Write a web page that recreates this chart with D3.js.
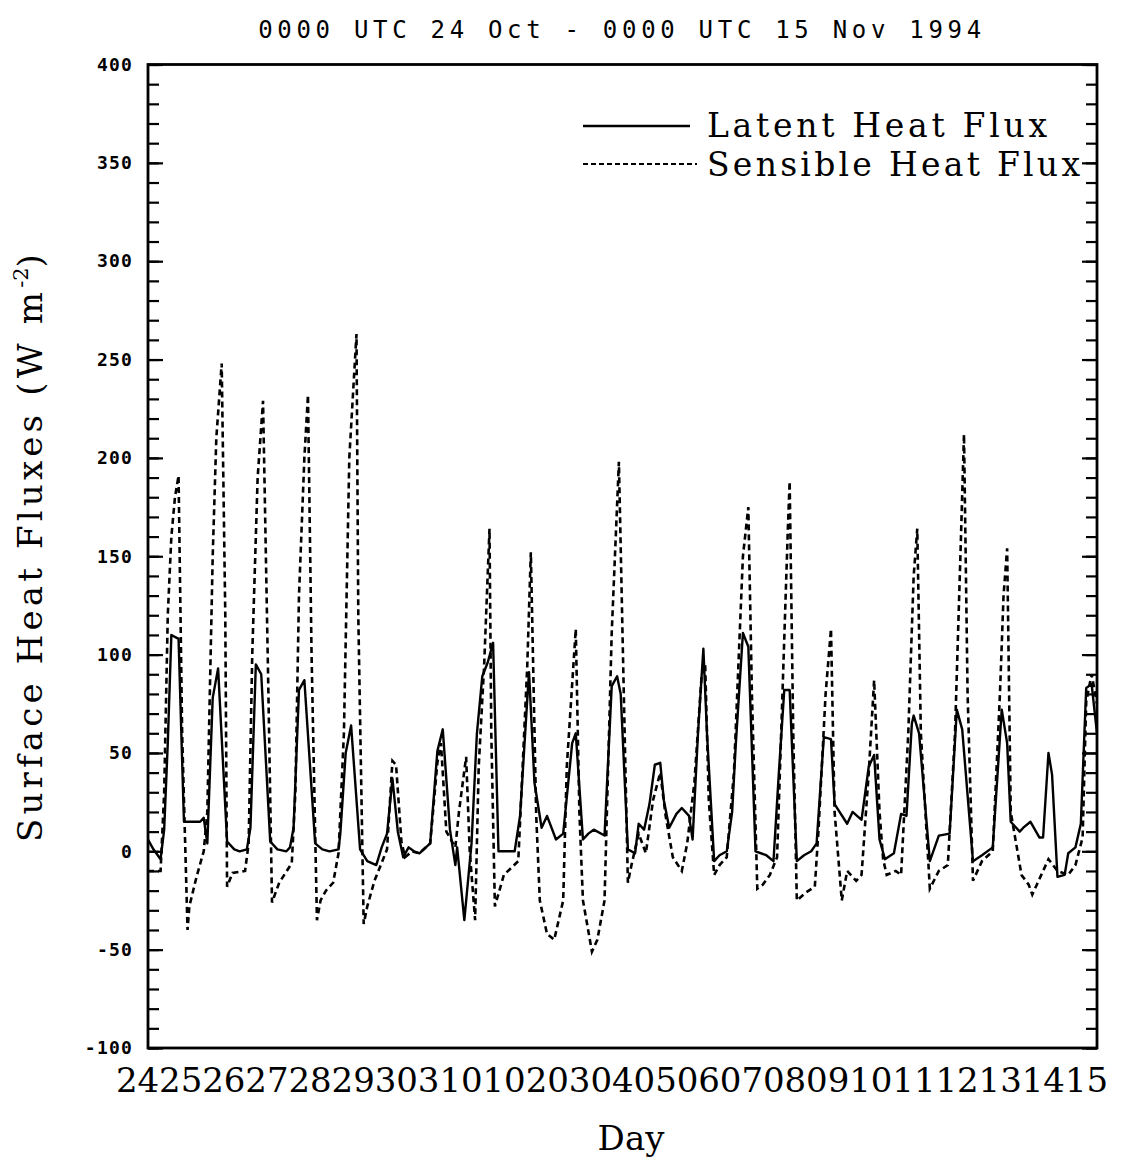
<!DOCTYPE html>
<html>
<head>
<meta charset="utf-8">
<script src="https://cdn.jsdelivr.net/npm/d3@7"></script>
<style>
  body { margin: 0; background: #fff; }
  svg { display: block; }
  .mono { font-family: "DejaVu Sans Mono", monospace; }
  .serif { font-family: "DejaVu Serif", serif; }
</style>
</head>
<body>
<div id="chart"></div>
<script>
// hours since 0000 UTC 24 Oct 1994, values in W m-2
const latentHours = [0,3,7,9,11,13,17,20,23,29,31,33,36,39,44,48,51,55,57,60,63,68,72,77,79,81,84,87,93,97,101,106,107,110,113,118,122,127,130,133,136,139,142,145,148,151,157,161,164,168,171,172,176,180,183,186,189,192,195,204,207,211,212,215,219,222,227,231,236,238,242,245,248,254,258,261,263,267,271,273,276,279,282,285,287,290,294,297,301,303,306,309,311,315,318,322,325,327,331,334,338,344,348,351,354,357,361,365,369,372,376,380,382,389,392,397,401,404,407,410,415,419,422,425,426,429,435,440,446,450,453,459,464,470,475,478,480,485,487,491,496,498,501,503,506,510,512,516,519,522,525,528];
const latentValues = [6,1,-4,11,55,110,108,15,15,15,17,4,78,93,5,1,0,1,12,95,90,5,1,0,2,12,82,87,4,1,0,1,9,50,64,1,-5,-7,2,9,37,10,-3,2,0,-1,4,51,62,11,-7,2,-35,4,60,89,96,106,0,0,18,77,91,35,12,18,6,9,55,60,6,9,11,8,84,89,80,1,-1,14,11,24,44,45,26,12,19,22,18,6,60,103,60,-5,-2,0,20,54,111,104,0,-2,-5,40,82,82,-5,-2,0,4,58,57,24,14,20,16,43,49,6,-4,-1,19,18,65,69,60,-5,8,9,72,62,-5,-2,2,72,55,15,10,12,15,7,7,50,39,-13,-12,-1,2,14,83,85,60];

const sensibleHours = [0,3,7,9,11,13,15,17,19,22,23,27,31,33,36,38,41,43,44,47,54,56,58,61,64,67,69,73,80,82,84,87,89,91,94,96,99,103,106,109,112,116,117,120,122,126,133,136,138,141,143,147,151,157,161,163,166,171,173,177,179,182,184,187,190,191,193,198,206,211,213,216,218,222,226,231,233,238,240,242,247,250,254,258,262,264,267,269,273,277,281,285,288,292,297,300,304,308,310,312,315,318,322,326,331,334,336,339,342,346,350,353,356,357,359,361,366,371,373,377,380,382,386,389,394,397,401,404,407,409,411,416,419,423,426,428,430,435,440,445,449,452,454,456,459,464,470,474,476,478,480,486,490,492,497,501,506,512,516,520,522,525,528];
const sensibleValues = [-10,-10,-10,30,120,160,180,191,60,-40,-28,-13,0,20,150,210,248,120,-18,-11,-10,4,100,190,229,80,-26,-16,-6,30,130,200,232,100,-35,-25,-20,-16,-1,60,200,263,120,-37,-28,-15,1,46,44,5,-3,0,-1,4,45,55,10,2,20,48,0,-35,43,94,164,60,-28,-12,-5,94,152,18,-25,-42,-45,-25,43,113,20,-25,-51,-45,-25,111,198,111,-16,-7,9,-1,26,40,18,-3,-10,4,35,89,95,26,-12,-7,-3,40,150,175,80,-19,-17,-12,-3,80,164,188,60,-25,-21,-18,10,80,113,20,-25,-10,-15,-12,40,87,20,-4,-12,-10,-12,60,140,164,60,-19,-10,-7,60,150,212,80,-15,-5,0,80,130,154,20,-12,-17,-22,-12,-4,-10,-12,-7,7,76,90,75];

const dayLabels = ["24","25","26","27","28","29","30","31","01","02","03","04","05","06","07","08","09","10","11","12","13","14","15"];
const majorTicks = [-100,-50,0,50,100,150,200,250,300,350,400];
const minorTicks = d3.range(-100, 401, 10);

const titleText = "0000 UTC 24 Oct - 0000 UTC 15 Nov 1994";
const legendNames = ["Latent Heat Flux", "Sensible Heat Flux"];
const legendWidths = [340, 373];

const W = 1124, H = 1170;
const plotL = 148, plotR = 1097, plotT = 64.5, plotB = 1048;

const svg = d3.select("#chart").append("svg")
    .attr("width", W)
    .attr("height", H);

const x = d3.scaleLinear().domain([0, 528]).range([plotL, plotR]);
const y = d3.scaleLinear().domain([-100, 400]).range([plotB, plotT]);

// title
svg.append("text")
    .attr("class", "mono")
    .attr("x", 622)
    .attr("y", 38)
    .attr("text-anchor", "middle")
    .style("font-size", "24px")
    .style("letter-spacing", "4.7px")
    .text(titleText);

// left axis: minor + major ticks pointing inward
svg.append("g")
    .attr("transform", `translate(${plotL},0)`)
    .call(d3.axisLeft(y).tickValues(minorTicks).tickSizeInner(-11).tickSizeOuter(0).tickFormat(""))
    .call(g => g.select(".domain").remove());

svg.append("g")
    .attr("transform", `translate(${plotL},0)`)
    .call(d3.axisLeft(y).tickValues(majorTicks).tickSizeInner(-15).tickSizeOuter(0).tickPadding(15).tickFormat(d => String(d)))
    .call(g => g.select(".domain").remove())
    .call(g => g.selectAll("text")
        .attr("class", "mono")
        .style("font-size", "18px")
        .style("font-weight", "bold")
        .style("letter-spacing", "1.2px"));

// right axis ticks, inward
svg.append("g")
    .attr("transform", `translate(${plotR},0)`)
    .call(d3.axisRight(y).tickValues(minorTicks).tickSizeInner(-11).tickSizeOuter(0).tickFormat(""))
    .call(g => g.select(".domain").remove());

svg.append("g")
    .attr("transform", `translate(${plotR},0)`)
    .call(d3.axisRight(y).tickValues(majorTicks).tickSizeInner(-15).tickSizeOuter(0).tickFormat(""))
    .call(g => g.select(".domain").remove());

svg.selectAll(".tick line")
    .attr("stroke", "#000")
    .attr("stroke-width", 2.2);

// bottom day labels
svg.append("g")
    .attr("transform", `translate(0,${plotB})`)
    .call(d3.axisBottom(x).tickValues(d3.range(0, 529, 24)).tickSize(0).tickPadding(0)
        .tickFormat((d, i) => dayLabels[i]))
    .call(g => g.select(".domain").remove())
    .call(g => g.selectAll("text")
        .attr("class", "serif")
        .attr("dx", -11)
        .attr("dy", 0)
        .attr("y", 44)
        .style("font-size", "34px")
        .style("fill", "#000"));

// frame
svg.append("rect")
    .attr("x", plotL)
    .attr("y", plotT)
    .attr("width", plotR - plotL)
    .attr("height", plotB - plotT)
    .attr("fill", "none")
    .attr("stroke", "#000")
    .attr("stroke-width", 2.8);

// axis titles
svg.append("text")
    .attr("class", "serif")
    .attr("x", 631)
    .attr("y", 1150)
    .attr("text-anchor", "middle")
    .attr("textLength", 67)
    .style("font-size", "34px")
    .text("Day");

const yt = svg.append("text")
    .attr("class", "serif")
    .attr("transform", "translate(42,842) rotate(-90)")
    .style("font-size", "34px");
yt.append("tspan").attr("textLength", 550).text("Surface Heat Fluxes (W m");
yt.append("tspan").attr("dy", -14).style("font-size", "21px").text("-2");
yt.append("tspan").attr("dy", 14).text(")");

// series
const latent = latentHours.map((h, i) => ({h: h, v: latentValues[i]}));
const sensible = sensibleHours.map((h, i) => ({h: h, v: sensibleValues[i]}));

const line = d3.line()
    .x(d => x(d.h))
    .y(d => y(d.v));

svg.append("path")
    .datum(sensible)
    .attr("d", line)
    .attr("fill", "none")
    .attr("stroke", "#000")
    .attr("stroke-width", 2.6)
    .attr("stroke-dasharray", "6,4");

svg.append("path")
    .datum(latent)
    .attr("d", line)
    .attr("fill", "none")
    .attr("stroke", "#000")
    .attr("stroke-width", 2.4)
    .attr("stroke-linejoin", "round");

// legend
const legend = svg.append("g");
legend.append("line")
    .attr("x1", 583).attr("x2", 690)
    .attr("y1", 126).attr("y2", 126)
    .attr("stroke", "#000")
    .attr("stroke-width", 2.4);
legend.append("line")
    .attr("x1", 583).attr("x2", 697)
    .attr("y1", 164).attr("y2", 164)
    .attr("stroke", "#000")
    .attr("stroke-width", 2)
    .attr("stroke-dasharray", "5,3");
legend.selectAll("text.leg")
    .data(legendNames)
    .join("text")
    .attr("class", "serif leg")
    .attr("x", 707)
    .attr("y", (d, i) => 137 + i * 39)
    .attr("textLength", (d, i) => legendWidths[i])
    .style("font-size", "33px")
    .text(d => d);
</script>
</body>
</html>
